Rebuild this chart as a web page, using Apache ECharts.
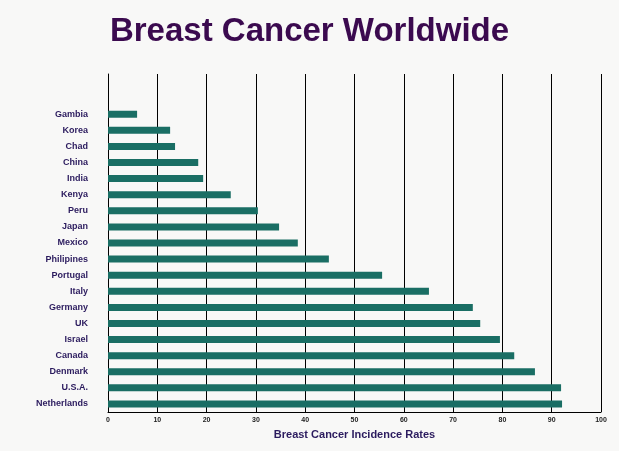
<!DOCTYPE html>
<html><head><meta charset="utf-8">
<script src="https://cdn.jsdelivr.net/npm/echarts@6/dist/echarts.min.js"></script>
<style>body{margin:0;background:#f8f8f7}#main{width:619px;height:451px}</style>
</head><body><div id="main"></div>
<script>
// categories top to bottom (two empty slots above the first bar)
var countries = ["", " ", "Gambia","Korea","Chad","China","India","Kenya","Peru","Japan","Mexico","Philipines","Portugal","Italy","Germany","UK","Israel","Canada","Denmark","U.S.A.","Netherlands"];
var rates = [null, null, 5.9,12.6,13.6,18.3,19.3,24.9,30.4,34.7,38.5,44.8,55.6,65.1,74.0,75.5,79.5,82.4,86.6,91.9,92.1];
var xTicks = [0,10,20,30,40,50,60,70,80,90,100];

var chart = echarts.init(document.getElementById("main"));
chart.setOption({
  backgroundColor: "#f8f8f7",
  animation: false,
  title: {
    text: "Breast Cancer Worldwide", left: "center", top: 10,
    textStyle: {fontFamily: "Arial, Liberation Sans", fontSize: 33, fontWeight: "bold", color: "#3b0a4f"}
  },
  grid: {left: 108, right: 18, top: 74, bottom: 39},
  xAxis: {
    type: "value", min: xTicks[0], max: xTicks[xTicks.length - 1], interval: 10,
    name: "Breast Cancer Incidence Rates", nameLocation: "middle", nameGap: 17,
    nameTextStyle: {fontFamily: "Arial, Liberation Sans", fontSize: 11, fontWeight: "bold", color: "#2b1b5e"},
    axisLine: {show: true, lineStyle: {color: "#000"}},
    axisTick: {show: false},
    axisLabel: {fontSize: 7, fontWeight: "bold", color: "#222", margin: 5},
    splitLine: {show: true, lineStyle: {color: "#000", width: 1}}
  },
  yAxis: {
    type: "category", data: countries, inverse: true,
    axisLine: {show: true, lineStyle: {color: "#000"}},
    axisTick: {show: false},
    axisLabel: {fontFamily: "Arial, Liberation Sans", fontSize: 9, fontWeight: "bold", color: "#2b1b5e", margin: 20}
  },
  series: [{type: "bar", data: rates, barWidth: 7, itemStyle: {color: "#1a6e64"}}]
});
</script></body></html>
